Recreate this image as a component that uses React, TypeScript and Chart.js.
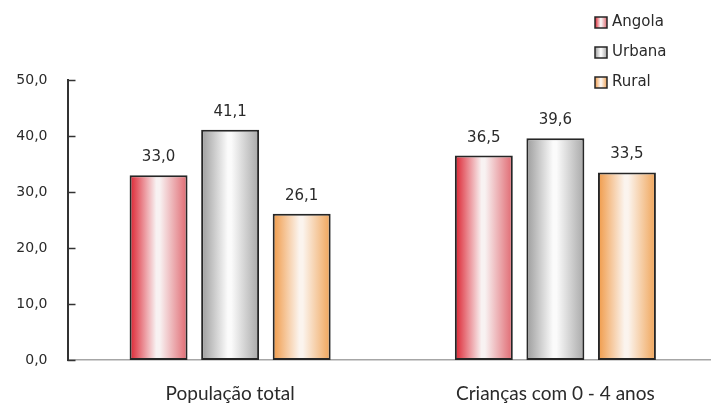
import React, { useEffect, useRef } from "react";
import { Chart, registerables } from "chart.js";

Chart.register(...registerables);

const categories = ["População total", "Crianças com 0 - 4 anos"];
const seriesNames = ["Angola", "Urbana", "Rural"];
const angolaValues = [33.0, 36.5];
const urbanaValues = [41.1, 39.6];
const ruralValues = [26.1, 33.5];
const yMin = 0;
const yMax = 50;
const yStep = 10;

const gradientStops: [string, string, string][] = [
  ["#dc2230", "#f8f2f2", "#e06870"],
  ["#9c9c9c", "#fbfbfb", "#a8a8a8"],
  ["#f09a48", "#fbf4ee", "#f0a458"],
];

const fmt = (v: number) => v.toFixed(1).replace(".", ",");

function makeGrad(ctx: CanvasRenderingContext2D, x0: number, x1: number, i: number) {
  const [a, b, c] = gradientStops[i];
  const g = ctx.createLinearGradient(x0, 0, x1, 0);
  g.addColorStop(0, a);
  g.addColorStop(0.46, b);
  g.addColorStop(0.52, b);
  g.addColorStop(1, c);
  return g;
}

const gradientPlugin = {
  id: "gradBars",
  beforeDatasetsDraw(chart: any) {
    const ctx = chart.ctx;
    chart.data.datasets.forEach((_ds: any, di: number) => {
      const meta = chart.getDatasetMeta(di);
      meta.data.forEach((el: any) => {
        const { x, width } = el.getProps(["x", "width"], true);
        const g = makeGrad(ctx, x - width / 2, x + width / 2, di);
        el.options = { ...el.options, backgroundColor: g };
      });
    });
  },
};

const labelPlugin = {
  id: "valueLabels",
  afterDatasetsDraw(chart: any) {
    const ctx = chart.ctx;
    ctx.save();
    ctx.font = "15px 'DejaVu Sans'";
    ctx.fillStyle = "#2a2a2a";
    ctx.textAlign = "center";
    ctx.textBaseline = "alphabetic";
    chart.data.datasets.forEach((ds: any, di: number) => {
      const meta = chart.getDatasetMeta(di);
      meta.data.forEach((el: any, i: number) => {
        const { x, y } = el.getProps(["x", "y"], true);
        ctx.fillText(fmt(ds.data[i]), x, y - 14);
      });
    });
    ctx.restore();
  },
};

const innerTicksPlugin = {
  id: "innerTicks",
  afterDraw(chart: any) {
    const ctx = chart.ctx;
    const ys = chart.scales.y;
    const left = chart.chartArea.left;
    ctx.save();
    ctx.strokeStyle = "#333333";
    ctx.lineWidth = 1.5;
    ys.ticks.forEach((t: any) => {
      const py = Math.round(ys.getPixelForValue(t.value)) + 0.5;
      ctx.beginPath();
      ctx.moveTo(left, py);
      ctx.lineTo(left + 8, py);
      ctx.stroke();
    });
    ctx.restore();
  },
};

const legendPlugin = {
  id: "customLegend",
  afterDraw(chart: any) {
    const ctx = chart.ctx;
    ctx.save();
    chart.data.datasets.forEach((ds: any, i: number) => {
      const bx = 595;
      const cy = 22.5 + i * 30;
      ctx.fillStyle = makeGrad(ctx, bx, bx + 12, i);
      ctx.fillRect(bx, cy - 5.5, 12, 11);
      ctx.strokeStyle = "#262626";
      ctx.lineWidth = 1.5;
      ctx.strokeRect(bx, cy - 5.5, 12, 11);
      ctx.fillStyle = "#2a2a2a";
      ctx.font = "15px 'DejaVu Sans'";
      ctx.textAlign = "left";
      ctx.textBaseline = "middle";
      ctx.fillText(ds.label, 612, cy);
    });
    ctx.restore();
  },
};

export default function App() {
  const ref = useRef<HTMLCanvasElement | null>(null);
  useEffect(() => {
    if (!ref.current) return;
    const seriesValues = [angolaValues, urbanaValues, ruralValues];
    const chart = new Chart(ref.current, {
      type: "bar",
      data: {
        labels: categories,
        datasets: seriesNames.map((name, i) => ({
          label: name,
          data: seriesValues[i],
          backgroundColor: gradientStops[i][0],
          borderColor: "#262626",
          borderWidth: 2,
          borderSkipped: false,
          categoryPercentage: 0.66,
          barPercentage: 0.81,
        })),
      },
      options: {
        responsive: false,
        animation: false,
        devicePixelRatio: 1,
        layout: { padding: { left: 0, right: 12, top: 80, bottom: 0 } },
        plugins: { legend: { display: false }, tooltip: { enabled: false } },
        scales: {
          x: {
            type: "category",
            offset: true,
            grid: { display: false, drawTicks: false },
            border: { display: true, color: "#a6a6a6", width: 1.5 },
            ticks: {
              font: { family: "Lato", size: 19 },
              color: "#2a2a2a",
              padding: 22,
              maxRotation: 0,
              autoSkip: false,
            },
            afterFit: (scale: any) => {
              scale.height = 45;
            },
          },
          y: {
            min: yMin,
            max: yMax,
            grid: { display: false, drawTicks: false },
            border: { display: true, color: "#333333", width: 2 },
            ticks: {
              stepSize: yStep,
              callback: (v: any) => fmt(Number(v)),
              font: { family: "'DejaVu Sans'", size: 14 },
              color: "#2a2a2a",
              padding: 20,
            },
            afterFit: (scale: any) => {
              scale.width = 67.5;
            },
          },
        },
      },
      plugins: [gradientPlugin, labelPlugin, innerTicksPlugin, legendPlugin],
    });
    return () => chart.destroy();
  }, []);
  return (
    <div
      style={{
        position: "fixed",
        left: 0,
        top: 0,
        width: 711,
        height: 405,
        overflow: "hidden",
        background: "#fff",
      }}
    >
      <canvas ref={ref} width={730} height={405} style={{ width: 730, height: 405, display: "block" }} />
    </div>
  );
}
